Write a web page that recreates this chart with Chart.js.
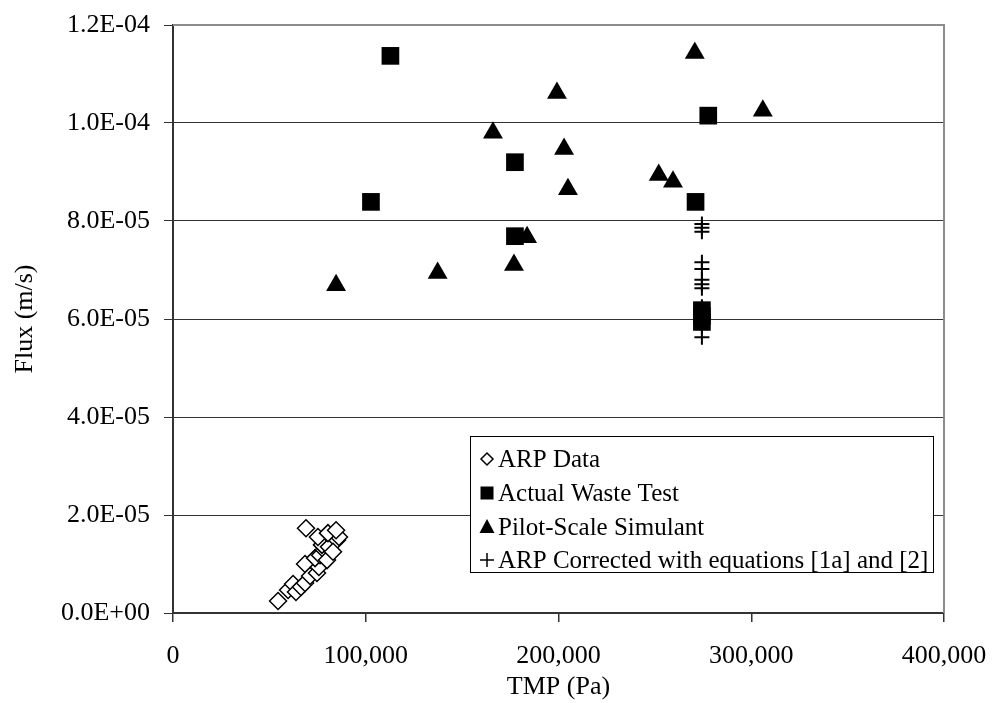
<!DOCTYPE html>
<html>
<head>
<meta charset="utf-8">
<script src="https://cdn.jsdelivr.net/npm/chart.js@4"></script>
<style>
  body { margin: 0; background: #fff; }
  #wrap { width: 992px; height: 703px; }
</style>
</head>
<body>
<div id="wrap"><canvas id="fluxChart" width="992" height="703"></canvas></div>
<script>
// Data (TMP in Pa, flux in m/s)
const arpX = [54500, 59700, 62300, 63800, 66400, 68500, 68500, 71100, 74700, 75700, 73700, 76300,
              78300, 79900, 77300, 80900, 85100, 83000, 86100, 75200, 80400, 69000, 84600];
const arpY = [2.45e-6, 4.69e-6, 5.92e-6, 4.29e-6, 5.31e-6, 6.12e-6, 1.00e-5, 7.55e-6, 8.16e-6, 9.39e-6, 1.12e-5, 1.18e-5,
              1.29e-5, 1.08e-5, 1.39e-5, 1.35e-5, 1.49e-5, 1.25e-5, 1.55e-5, 1.55e-5, 1.63e-5, 1.73e-5, 1.69e-5];

const wasteX = [112800, 102700, 177400, 177400, 271100, 277700, 274400, 274400, 274400];
const wasteY = [1.137e-4, 8.39e-5, 9.20e-5, 7.69e-5, 8.39e-5, 1.015e-4, 6.18e-5, 6.06e-5, 5.94e-5];

const pilotX = [84600, 137300, 166000, 183700, 176900, 199200, 202900, 204900, 252000, 259400, 270700, 306000];
const pilotY = [6.69e-5, 6.94e-5, 9.80e-5, 7.67e-5, 7.10e-5, 1.061e-4, 9.47e-5, 8.65e-5, 8.94e-5, 8.80e-5, 1.143e-4, 1.025e-4];

const corrX = [274400, 274400, 274400, 274400, 274400, 274400, 274400, 274400, 274400, 274400, 274400, 274400, 274400, 274400];
const corrY = [7.94e-5, 7.86e-5, 7.78e-5, 7.16e-5, 7.02e-5, 6.80e-5, 6.71e-5, 6.63e-5, 6.25e-5, 6.14e-5, 6.04e-5, 5.94e-5, 5.84e-5, 5.63e-5];

const seriesNames = ['ARP Data', 'Actual Waste Test', 'Pilot-Scale Simulant', 'ARP Corrected with equations [1a] and [2]'];
const xTicks = [0, 100000, 200000, 300000, 400000];
const yTicks = [0, 2e-5, 4e-5, 6e-5, 8e-5, 1e-4, 1.2e-4];

const pts = (xs, ys) => xs.map((x, i) => ({ x: x, y: ys[i] }));

function sci(v) {
  if (Math.abs(v) < 1e-12) return '0.0E+00';
  const parts = v.toExponential(1).split('e');
  const n = parseInt(parts[1], 10);
  return parts[0] + 'E' + (n < 0 ? '-' : '+') + String(Math.abs(n)).padStart(2, '0');
}

const FONT = "'Liberation Serif', 'Times New Roman', serif";
Chart.defaults.font.family = FONT;
Chart.defaults.color = '#000';

// legend box drawn inside the plot, like the original
const boxLegend = {
  id: 'boxLegend',
  afterDraw(chart) {
    const ctx = chart.ctx;
    const L = 470, T = 436, R = 933, B = 572;
    const rows = [459, 493, 527, 560];
    ctx.save();
    ctx.fillStyle = '#fff';
    ctx.fillRect(L, T, R - L, B - T);
    ctx.strokeStyle = '#000';
    ctx.lineWidth = 1;
    ctx.strokeRect(L + 0.5, T + 0.5, R - L, B - T);
    ctx.font = '25px ' + FONT;
    ctx.textBaseline = 'middle';
    ctx.textAlign = 'left';
    const mx = 487;
    rows.forEach((y, i) => {
      ctx.beginPath();
      ctx.fillStyle = '#000';
      ctx.strokeStyle = '#000';
      if (i === 0) {
        ctx.lineWidth = 1.5;
        ctx.moveTo(mx - 6, y); ctx.lineTo(mx, y - 6); ctx.lineTo(mx + 6, y); ctx.lineTo(mx, y + 6);
        ctx.closePath();
        ctx.fillStyle = '#fff'; ctx.fill(); ctx.stroke();
      } else if (i === 1) {
        ctx.fillRect(mx - 6.5, y - 6.5, 13, 13);
      } else if (i === 2) {
        ctx.moveTo(mx, y - 8); ctx.lineTo(mx + 7.5, y + 6); ctx.lineTo(mx - 7.5, y + 6);
        ctx.closePath(); ctx.fill();
      } else {
        ctx.lineWidth = 1.5;
        ctx.moveTo(mx - 7, y); ctx.lineTo(mx + 7, y);
        ctx.moveTo(mx, y - 7); ctx.lineTo(mx, y + 7);
        ctx.stroke();
      }
      ctx.fillStyle = '#000';
      ctx.fillText(seriesNames[i], 498, y + 1);
    });
    ctx.restore();
  }
};

// gray top and right edges of the plot area
const plotFrame = {
  id: 'plotFrame',
  afterDatasetsDraw(chart) {
    const a = chart.chartArea, ctx = chart.ctx;
    ctx.save();
    ctx.strokeStyle = '#8c8c8c';
    ctx.lineWidth = 2;
    ctx.beginPath();
    ctx.moveTo(a.left, a.top);
    ctx.lineTo(a.right, a.top);
    ctx.lineTo(a.right, a.bottom);
    ctx.stroke();
    ctx.restore();
  }
};

const ctx = document.getElementById('fluxChart').getContext('2d');
const fluxChart = new Chart(ctx, {
  type: 'scatter',
  data: {
    datasets: [
      { label: seriesNames[0], data: pts(arpX, arpY), pointStyle: 'rectRot', pointRadius: 8.5,
        backgroundColor: '#fff', borderColor: '#000', borderWidth: 1.5, order: 4 },
      { label: seriesNames[1], data: pts(wasteX, wasteY), pointStyle: 'rect', pointRadius: 12.5,
        backgroundColor: '#000', borderColor: '#000', borderWidth: 0, order: 3 },
      { label: seriesNames[2], data: pts(pilotX, pilotY), pointStyle: 'triangle', pointRadius: 11.5,
        backgroundColor: '#000', borderColor: '#000', borderWidth: 0, order: 2 },
      { label: seriesNames[3], data: pts(corrX, corrY), pointStyle: 'cross', pointRadius: 7.5,
        backgroundColor: '#000', borderColor: '#000', borderWidth: 2, order: 1 }
    ]
  },
  options: {
    responsive: false,
    animation: false,
    devicePixelRatio: 1,
    clip: false,
    layout: { autoPadding: false, padding: { left: 0, right: 48, top: 25, bottom: 0 } },
    plugins: { legend: { display: false }, tooltip: { enabled: false } },
    scales: {
      x: {
        type: 'linear', min: 0, max: 400000,
        afterBuildTicks: s => { s.ticks = xTicks.map(v => ({ value: v })); },
        afterFit: s => { s.height = 90; s.paddingLeft = 0; s.paddingRight = 0; },
        grid: { drawOnChartArea: false, drawTicks: true, tickLength: 9, color: '#333', lineWidth: 1.5 },
        border: { color: '#333', width: 2 },
        ticks: { font: { size: 26 }, padding: 19, maxRotation: 0,
                 callback: v => v.toLocaleString('en-US') },
        title: { display: true, text: 'TMP (Pa)', font: { size: 26 }, padding: { top: 0, bottom: 0 } }
      },
      y: {
        type: 'linear', min: 0, max: 1.2e-4,
        afterBuildTicks: s => { s.ticks = yTicks.map(v => ({ value: v })); },
        afterFit: s => { s.width = 173; s.paddingTop = 0; s.paddingBottom = 0; },
        grid: { color: '#333', lineWidth: 1, tickLength: 9 },
        border: { color: '#333', width: 2 },
        ticks: { font: { size: 26 }, padding: 14, callback: v => sci(v) },
        title: { display: true, text: 'Flux (m/s)', font: { size: 26 }, padding: { top: 10, bottom: 0 } }
      }
    }
  },
  plugins: [plotFrame, boxLegend]
});
</script>
</body>
</html>
